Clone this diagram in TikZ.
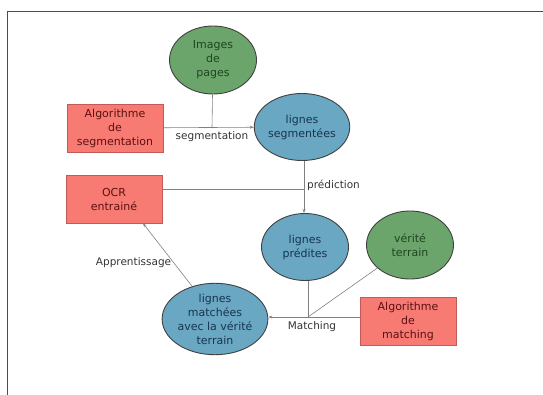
\documentclass[tikz,border=0pt]{standalone}
\usepackage{fontspec}
\setmainfont{DejaVu Sans}
\usetikzlibrary{positioning,shapes.geometric,arrows.meta}
\definecolor{datafill}{HTML}{6CA56C}
\definecolor{datatext}{HTML}{1F4520}
\definecolor{linefill}{HTML}{6AA7C3}
\definecolor{linetext}{HTML}{173550}
\definecolor{toolfill}{HTML}{F77B73}
\definecolor{tooldraw}{HTML}{C25A55}
\definecolor{tooltext}{HTML}{5A1212}
\definecolor{wirecolor}{HTML}{808080}

\begin{document}
\begin{tikzpicture}[
  x=1pt, y=-1pt,
  font=\fontsize{11pt}{14pt}\selectfont,
  >={Stealth[length=4pt,width=3pt]},
  donnee/.style={
    ellipse, draw=black!75, fill=datafill, line width=0.9pt,
    minimum width=87pt, minimum height=68pt, inner sep=0pt,
    align=center, text=datatext,
  },
  lignes/.style={
    ellipse, draw=black!75, fill=linefill, line width=0.9pt,
    minimum width=87pt, minimum height=67pt, inner sep=0pt,
    align=center, text=linetext,
  },
  outil/.style={
    rectangle, draw=tooldraw, fill=toolfill, line width=0.6pt,
    minimum width=96pt, minimum height=48pt, inner sep=0pt,
    align=center, text=tooltext,
  },
  fil/.style={draw=wirecolor, line width=0.6pt},
  etiquette/.style={font=\fontsize{10.5pt}{13pt}\selectfont, text=black!80, inner sep=2pt},
]

\useasboundingbox (0,0) rectangle (543,395);

% --- frame ----------------------------------------------------------
\draw[black!70, line width=0.7pt] (7,395) -- (7,11) -- (543,11);

% --- nodes ----------------------------------------------------------
\node[donnee] (Images)    at (213,60)  {Images\\de\\pages};
\node[outil]  (AlgoSeg)   at (115,128) {Algorithme\\de\\segmentation};
\node[lignes] (Segment)   at (302,127) {lignes\\segmentées};
\node[outil]  (OCR)       at (114,199) {OCR\\entrainé};
\node[lignes] (Predites)  at (305,247) {lignes\\prédites};
\node[donnee] (Verite)    at (410,245) {vérité\\terrain};
\node[lignes] (Matchees)  at (215,319) {lignes\\matchées\\avec la vérité\\terrain};
\node[outil]  (AlgoMatch) at (408,321) {Algorithme\\de\\matching};

% --- junctions ------------------------------------------------------
\coordinate (segj)   at (212,128);
\coordinate (predj)  at (304,189);
\coordinate (matchj) at (308,317);

% --- segmentation ---------------------------------------------------
\draw[fil] (Images) -- (segj);
\draw[fil, ->] (AlgoSeg) -- (Segment);
\node[etiquette, below=1pt of segj] (lblseg) {segmentation};

% --- prediction -----------------------------------------------------
\draw[fil, ->] (Segment.south -| predj) -- (Predites.north -| predj);
\draw[fil] (OCR.east |- predj) -- (predj);
\node[etiquette, anchor=west, xshift=1pt, yshift=4pt] (lblpred) at (predj) {prédiction};

% --- matching -------------------------------------------------------
\draw[fil] (Predites.south -| matchj) -- (matchj);
\draw[fil] (Verite) -- (matchj);
\draw[fil] (AlgoMatch.west |- matchj) -- (matchj);
\draw[fil, ->] (matchj) -- (Matchees.east |- matchj);
\node[etiquette, below=2pt of matchj, xshift=4pt] (lblmatch) {Matching};

% --- apprentissage --------------------------------------------------
\draw[fil, ->] (Matchees.125) -- ([xshift=29pt]OCR.south)
  node[etiquette, pos=0.38, left] (lblapp) {Apprentissage};

\end{tikzpicture}
\end{document}
